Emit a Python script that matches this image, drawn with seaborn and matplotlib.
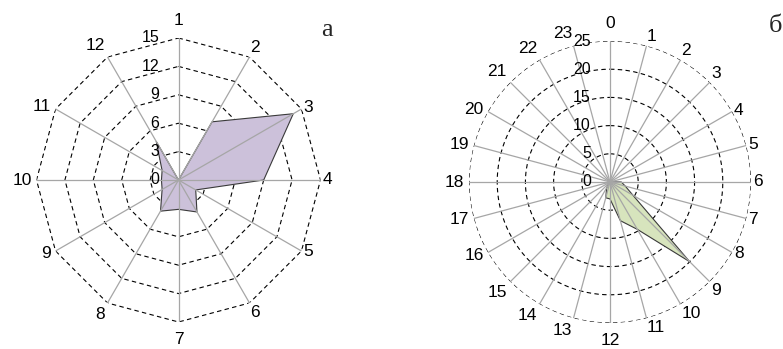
import numpy as np
import pandas as pd
import matplotlib
matplotlib.use("Agg")
import matplotlib.pyplot as plt
import seaborn as sns

# ---- data -------------------------------------------------------------
months_a = ["1", "2", "3", "4", "5", "6", "7", "8", "9", "10", "11", "12"]
values_a = [0.0, 7.1, 14.0, 9.0, 2.1, 3.9, 3.1, 3.8, 2.0, 1.8, 2.0, 4.7]
rticks_a = [0, 3, 6, 9, 12, 15]

hours_b = [str(h) for h in range(24)]
values_b = [0, 0, 0, 0, 0, 0, 2.0, 2.8, 4.7, 20.0, 9.7, 7.1,
            3.0, 2.9, 1.2, 0.3, 0, 0, 0, 0, 0, 0, 0, 0]
rticks_b = [0, 5, 10, 15, 20, 25]

fill_a = "#ccc1da"
fill_b = "#d7e4bd"
edge_col = "#3a3a3a"
spoke_col = "#a6a6a6"
SANS = ["Liberation Sans", "DejaVu Sans"]

sns.set_theme(style="white")
plt.rcParams["font.family"] = SANS

DPI = 100
fig = plt.figure(figsize=(7.83, 3.49), dpi=DPI)


def px2pt(p):
    return p * 72.0 / DPI


def radar(rect, labels, values, rticks, fill, polygon_grid):
    ax = fig.add_axes(rect, projection="polar")
    ax.set_theta_zero_location("N")
    ax.set_theta_direction(-1)
    n = len(labels)
    theta = np.arange(n) * 2 * np.pi / n
    rmax = rticks[-1]
    ax.set_ylim(0, rmax)
    ax.grid(False)
    ax.set_xticks([])
    ax.set_yticks([])
    ax.spines["polar"].set_visible(False)
    ax.set_facecolor("none")

    # dashed rings
    for r in rticks[1:]:
        if polygon_grid:
            th = np.append(theta, theta[0])
        else:
            th = np.linspace(0, 2 * np.pi, 361)
        ax.plot(th, np.full_like(th, r, dtype=float), color="black",
                lw=0.8, ls=(0, (4, 3)), zorder=1)

    # data polygon
    df = pd.DataFrame({"theta": np.append(theta, theta[0]),
                       "r": np.append(values, values[0])})
    ax.fill(df["theta"], df["r"], color=fill, zorder=2, lw=0)
    sns.lineplot(data=df, x="theta", y="r", ax=ax, sort=False,
                 estimator=None, color=edge_col, lw=0.8, zorder=3)
    ax.set_xlabel("")
    ax.set_ylabel("")

    # spokes
    for t in theta:
        ax.plot([t, t], [0, rmax], color=spoke_col, lw=0.9, zorder=4)

    # category labels
    for t, lab in zip(theta, labels):
        s, c = np.sin(t), np.cos(t)
        ha = "left" if s > 0.1 else ("right" if s < -0.1 else "center")
        va = "bottom" if c > 0.6 else ("top" if c < -0.6 else "center")
        if abs(s) < 0.1:
            pad = 10
        elif s > 0:
            pad = 2
        else:
            pad = 5
        ax.annotate(lab, xy=(t, rmax), xytext=(px2pt(pad * s), px2pt(pad * c)),
                    textcoords="offset points", ha=ha, va=va,
                    fontsize=12.5, family=SANS, color="black",
                    annotation_clip=False)

    # radial value labels along the top spoke
    for r in rticks:
        ax.annotate(str(r), xy=(0, r), xytext=(px2pt(-19), 0),
                    textcoords="offset points", ha="right", va="center",
                    fontsize=11.5, family=SANS, color="black",
                    annotation_clip=False, zorder=5)
    return ax


W, H = 783.0, 349.0
radar([(178.5 - 142) / W, (H - 180 - 142) / H, 284 / W, 284 / H],
      months_a, values_a, rticks_a, fill_a, polygon_grid=True)
radar([(610 - 141) / W, (H - 182 - 141) / H, 282 / W, 282 / H],
      hours_b, values_b, rticks_b, fill_b, polygon_grid=False)

fig.text(327 / W, 1 - 30 / H, "а", fontsize=19, family=["Liberation Serif"],
         ha="center", va="center")
fig.text(775 / W, 1 - 26 / H, "б", fontsize=19, family=["Liberation Serif"],
         ha="center", va="center")

fig.savefig("out.png", dpi=DPI)
